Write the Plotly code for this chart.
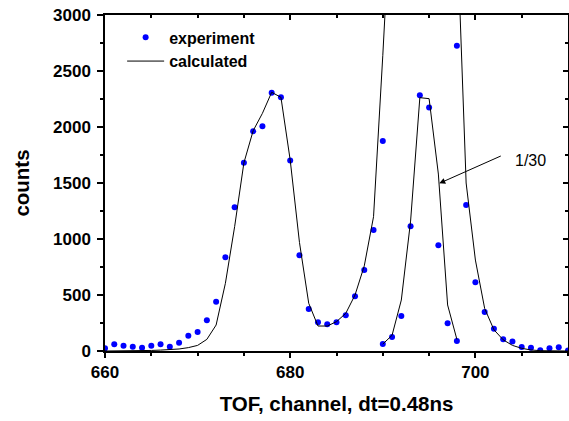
import plotly.graph_objects as go

# ---------------- data ----------------
channels = list(range(660, 711))
experiment = [24, 60, 47, 38, 30, 47, 60, 38, 74, 137, 170, 274, 440, 837, 1283,
              1681, 1961, 2006, 2306, 2265, 1702, 854, 375, 256, 238, 256, 319,
              488, 723, 1080, 1875, 3750, 9360, 33390, 68580, 65190, 28320, 7410,
              2726, 1304, 613, 348, 199, 104, 85, 36, 28, 6, 24, 33, 4]
calculated = [0, 0, 1, 2, 3, 5, 8, 12, 18, 30, 50, 104, 232, 604, 1110,
              1680, 1967, 2122, 2310, 2265, 1705, 970, 426, 223, 223, 262, 336,
              500, 760, 1199, 2640, 4200, 13650, 34800, 67860, 67590, 47400, 12330,
              3800, 1500, 812, 380, 190, 100, 50, 24, 9, 3, 1, 0, 0]
# peak scaled by 1/30
peak_channels = [690, 691, 692, 693, 694, 695, 696, 697, 698]
peak_experiment = [62, 125, 312, 1113, 2283, 2173, 944, 247, 89]
peak_calculated = [62, 140, 455, 1160, 2262, 2253, 1580, 411, 104]

x_ticks = [660, 680, 700]
y_ticks = [0, 500, 1000, 1500, 2000, 2500, 3000]

FONT = "Arial, 'Liberation Sans', sans-serif"
BLUE = "#0000FF"

fig = go.Figure()
fig.add_trace(go.Scatter(x=channels, y=experiment, mode="markers", name="experiment",
                         legendgroup="exp",
                         marker=dict(color=BLUE, size=6, line=dict(width=0))))
fig.add_trace(go.Scatter(x=peak_channels, y=peak_experiment, mode="markers",
                         legendgroup="exp", showlegend=False,
                         marker=dict(color=BLUE, size=6, line=dict(width=0))))
fig.add_trace(go.Scatter(x=channels, y=calculated, mode="lines", name="calculated",
                         legendgroup="calc",
                         line=dict(color="black", width=1)))
fig.add_trace(go.Scatter(x=peak_channels, y=peak_calculated, mode="lines",
                         legendgroup="calc", showlegend=False,
                         line=dict(color="black", width=1)))
# helper trace for mirrored (inside) ticks on top/right
fig.add_trace(go.Scatter(x=[None], y=[None], xaxis="x2", yaxis="y2",
                         showlegend=False, hoverinfo="skip"))

tickfont = dict(family=FONT, size=17, color="black", weight="bold")
titlefont = dict(family=FONT, size=20.5, color="black", weight="bold")

fig.update_layout(
    width=569, height=421,
    margin=dict(l=105, r=1, t=15, b=70),
    paper_bgcolor="white", plot_bgcolor="white",
    showlegend=True,
    legend=dict(x=0.037, y=0.984, xanchor="left", yanchor="top",
                bgcolor="rgba(0,0,0,0)", borderwidth=0,
                font=dict(family=FONT, size=16, color="black", weight="bold"),
                tracegroupgap=0, itemwidth=37),
    xaxis=dict(range=[660, 710], tickvals=x_ticks, ticktext=[str(v) for v in x_ticks],
               ticks="outside", ticklen=5, tickwidth=1.5, tickcolor="black",
               minor=dict(dtick=5, tick0=660, ticks="outside", ticklen=3,
                          tickwidth=1.5, tickcolor="black", showgrid=False),
               showline=True, linecolor="black", linewidth=1.5,
               showgrid=False, zeroline=False, tickfont=tickfont,
               title=dict(text="TOF, channel, dt=0.48ns", standoff=15, font=titlefont)),
    yaxis=dict(range=[0, 3000], tickvals=y_ticks, ticktext=[str(v) for v in y_ticks],
               ticks="outside", ticklen=6, tickwidth=1.5, tickcolor="black",
               ticklabelstandoff=3,
               minor=dict(dtick=250, tick0=0, ticks="outside", ticklen=3,
                          tickwidth=1.5, tickcolor="black", showgrid=False),
               showline=True, linecolor="black", linewidth=1.5,
               showgrid=False, zeroline=False, tickfont=tickfont,
               title=dict(text="counts", standoff=18, font=titlefont)),
    xaxis2=dict(overlaying="x", side="top", range=[660, 710], tickvals=x_ticks,
                showticklabels=False, ticks="inside", ticklen=5, tickwidth=1.5,
                tickcolor="black",
                minor=dict(dtick=5, tick0=660, ticks="inside", ticklen=3,
                           tickwidth=1.5, tickcolor="black", showgrid=False),
                showline=True, linecolor="black", linewidth=1.5,
                showgrid=False, zeroline=False),
    yaxis2=dict(overlaying="y", side="right", range=[0, 3000], tickvals=y_ticks,
                showticklabels=False, ticks="inside", ticklen=5, tickwidth=1.5,
                tickcolor="black",
                minor=dict(dtick=250, tick0=0, ticks="inside", ticklen=3,
                           tickwidth=1.5, tickcolor="black", showgrid=False),
                showline=True, linecolor="black", linewidth=1.5,
                showgrid=False, zeroline=False),
    annotations=[
        dict(x=696.1, y=1497, xref="x", yref="y", text="", showarrow=True,
             ax=63, ay=-28, arrowhead=2, arrowsize=1.2, arrowwidth=1, arrowcolor="black"),
        dict(x=705.9, y=1705, xref="x", yref="y", text="1/30", showarrow=False,
             font=dict(family=FONT, size=16, color="black")),
    ],
)

fig.write_html("out.html")
